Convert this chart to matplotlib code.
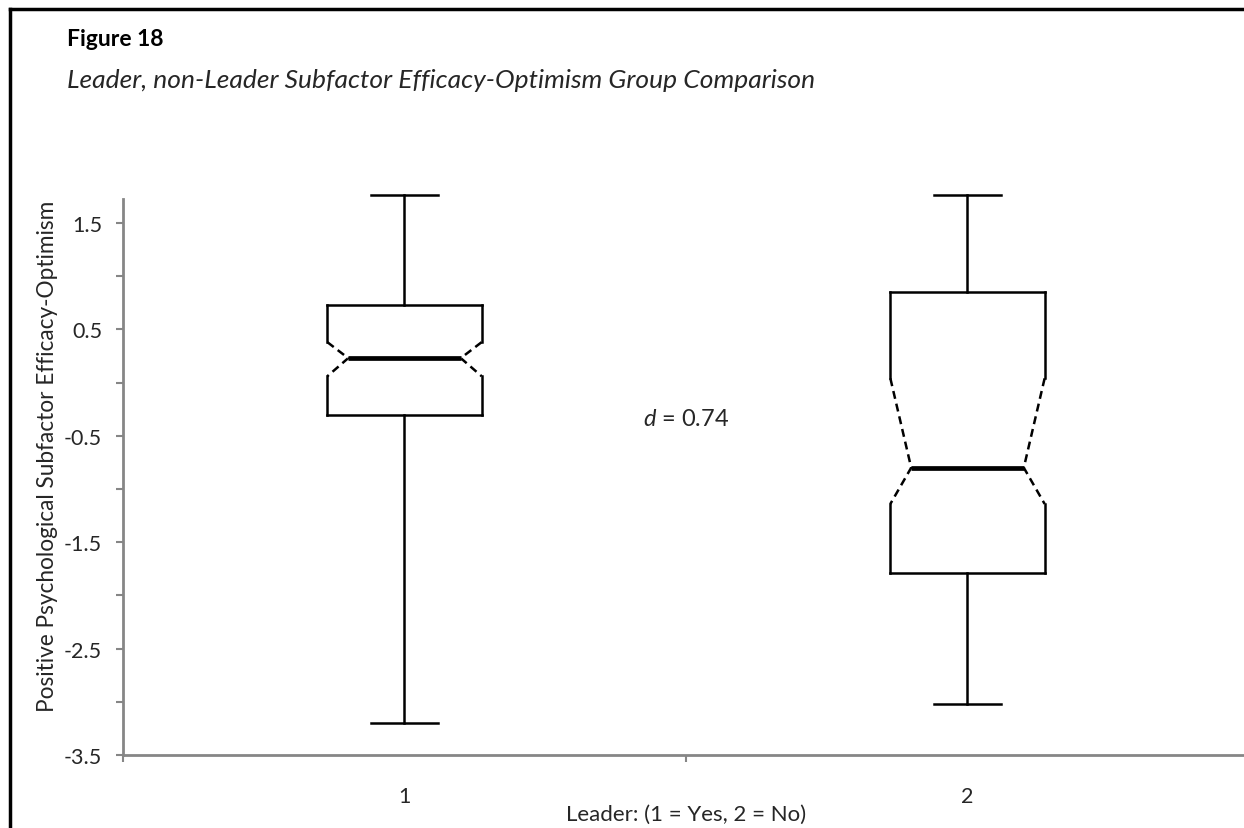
import numpy as np
import matplotlib
matplotlib.use("Agg")
import matplotlib.pyplot as plt
from matplotlib.lines import Line2D

# box summary per group (leader = 1, non-leader = 2)
groups      = [1, 2]
whisker_hi  = [1.76, 1.76]
q3          = [0.73, 0.85]
notch_hi    = [0.38, 0.04]
median      = [0.23, -0.80]
notch_lo    = [0.06, -1.14]
q1          = [-0.30, -1.79]
whisker_lo  = [-3.20, -3.02]
effect_size = 0.74

plt.rcParams['font.family'] = ['Lato', 'DejaVu Sans']
plt.rcParams['mathtext.fontset'] = 'custom'
plt.rcParams['mathtext.it'] = 'Lato:italic'
plt.rcParams['mathtext.rm'] = 'Lato'

fig = plt.figure(figsize=(12.44, 8.29), dpi=100)
ax = fig.add_axes([123/1244, 73/829, (1249-123)/1244, (756-200)/829])

axis_grey = '#868686'
text_col = '#262626'
half_w  = 0.137   # box half width
notch_w = 0.100   # half width at the median
cap_w   = 0.060   # whisker cap half width
lw = 1.8

for c, wh, u, nh, m, nl, l, wl in zip(groups, whisker_hi, q3, notch_hi,
                                       median, notch_lo, q1, whisker_lo):
    solid = dict(color='black', lw=lw, clip_on=False, solid_capstyle='projecting')
    dash  = dict(color='black', lw=lw, clip_on=False, linestyle=(0, (3.2, 2.0)))
    # top and bottom of the box
    ax.plot([c - half_w, c + half_w], [u, u], **solid)
    ax.plot([c - half_w, c + half_w], [l, l], **solid)
    for s in (-1, 1):
        x_out = c + s*half_w
        x_in  = c + s*notch_w
        ax.plot([x_out, x_out], [u, nh], **solid)
        ax.plot([x_out, x_out], [nl, l], **solid)
        ax.plot([x_out, x_in, x_out], [nh, m, nl], **dash)
    # median
    ax.plot([c - notch_w, c + notch_w], [m, m], color='black', lw=3.4,
            solid_capstyle='butt', clip_on=False)
    # whiskers
    ax.plot([c, c], [u, wh], color='black', lw=lw, clip_on=False)
    ax.plot([c, c], [l, wl], color='black', lw=lw, clip_on=False)
    ax.plot([c - cap_w, c + cap_w], [wh, wh], color='black', lw=lw, clip_on=False)
    ax.plot([c - cap_w, c + cap_w], [wl, wl], color='black', lw=lw, clip_on=False)

ax.text(1.5, -0.34, r'$d$ = ' + f'{effect_size:.2f}', ha='center', va='center',
        fontsize=17, color=text_col)

ax.set_xlim(0.5, 2.5)
ax.set_ylim(-3.5, 1.5 + 24/106.4)

ax.set_yticks(np.arange(-3.5, 1.6, 1.0))
ax.set_yticklabels([f'{v:.1f}' for v in np.arange(-3.5, 1.6, 1.0)])
ax.set_yticks(np.arange(-3.0, 1.1, 1.0), minor=True)
ax.set_xticks(groups)
ax.set_xticklabels([str(g) for g in groups])
ax.set_xticks([0.5, 1.5, 2.5], minor=True)

ax.tick_params(axis='y', which='both', direction='out', length=5, width=1.5,
               color=axis_grey, labelsize=15.5, pad=10, labelcolor=text_col)
ax.tick_params(axis='x', which='major', length=0, pad=22, labelsize=15.5,
               labelcolor=text_col)
ax.tick_params(axis='x', which='minor', direction='out', length=5, width=1.5,
               color=axis_grey)

for side in ('top', 'right'):
    ax.spines[side].set_visible(False)
for side in ('left', 'bottom'):
    ax.spines[side].set_color(axis_grey)
    ax.spines[side].set_linewidth(2)

ax.set_ylabel('Positive Psychological Subfactor Efficacy-Optimism', fontsize=16.3,
              color=text_col, va='center')
ax.yaxis.set_label_coords((47 - 123)/(1249 - 123), (756 - 456)/(756 - 200))
ax.set_xlabel('Leader: (1 = Yes, 2 = No)', fontsize=16, color=text_col, va='center')
ax.xaxis.set_label_coords((686 - 123)/(1249 - 123), -(815 - 756)/(756 - 200))

fig.text(67/1244, 1 - 40/829, 'Figure 18', fontsize=16.5, fontweight='bold',
         ha='left', va='center')
fig.text(67/1244, 1 - 81/829,
         'Leader, non-Leader Subfactor Efficacy-Optimism Group Comparison',
         fontsize=19, style='italic', ha='left', va='center', color=text_col)

# page frame on the left and top
fig.add_artist(Line2D([10/1244, 10/1244], [0, 1 - 10/829], color='black', lw=2.5,
                      transform=fig.transFigure))
fig.add_artist(Line2D([10/1244, 1], [1 - 10/829, 1 - 10/829], color='black', lw=2.5,
                      transform=fig.transFigure))

fig.savefig('out.png', dpi=100)
